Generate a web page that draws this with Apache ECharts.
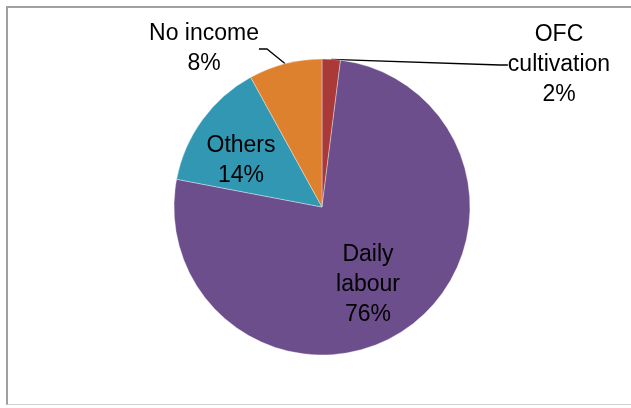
<!DOCTYPE html>
<html>
<head>
<meta charset="utf-8">
<script src="https://cdn.jsdelivr.net/npm/echarts@6/dist/echarts.min.js"></script>
<style>
  html, body { margin: 0; padding: 0; background: #fff; overflow: hidden; }
  #frame {
    position: absolute; left: 6px; top: 6px; width: 640px; height: 399px;
    border-left: 2px solid #a0a0a0; border-top: 2px solid #a0a0a0;
    border-bottom: 1px solid #d0d0d0; box-sizing: border-box;
  }
  #chart { position: absolute; left: 0; top: 0; width: 631px; height: 408px; }
</style>
</head>
<body>
<div id="frame"></div>
<div id="chart"></div>
<script>
// Main source of income, share of households (%)
const categories = ['OFC\ncultivation', 'Daily\nlabour', 'Others', 'No income'];
const shares = [2, 76, 14, 8];
const colors = ['#A93A37', '#6B4E8B', '#3197B2', '#DE812E'];

// Label block centres, relative to the pie centre (px)
const labelOffsets = [[237, -142], [46, 78], [-81, -46], [-118, -158]];
const outsideLabel = [true, false, false, true];

const chart = echarts.init(document.getElementById('chart'), null, { renderer: 'canvas' });

const cx = 322, cy = 207, radius = 148;

chart.setOption({
  animation: false,
  series: [{
    type: 'pie',
    center: [cx, cy],
    radius: radius,
    startAngle: 90,
    clockwise: true,
    avoidLabelOverlap: false,
    itemStyle: { borderColor: 'rgba(255,255,255,0.6)', borderWidth: 0.6 },
    label: {
      color: '#000',
      fontFamily: '"Liberation Sans", Arial, sans-serif',
      fontSize: 23,
      lineHeight: 30,
      align: 'center',
      formatter: p => p.name + '\n' + p.value + '%'
    },
    labelLine: { lineStyle: { color: '#000', width: 1.3 }, length: 10, length2: 8, smooth: false },
    labelLayout: function (params) {
      const off = labelOffsets[params.dataIndex];
      return {
        x: cx + off[0],
        y: cy + off[1],
        align: 'center',
        verticalAlign: 'middle'
      };
    },
    data: categories.map((name, i) => ({
      name: name,
      value: shares[i],
      itemStyle: { color: colors[i] },
      label: { position: outsideLabel[i] ? 'outside' : 'inside' },
      labelLine: { show: outsideLabel[i] }
    }))
  }]
});
</script>
</body>
</html>
